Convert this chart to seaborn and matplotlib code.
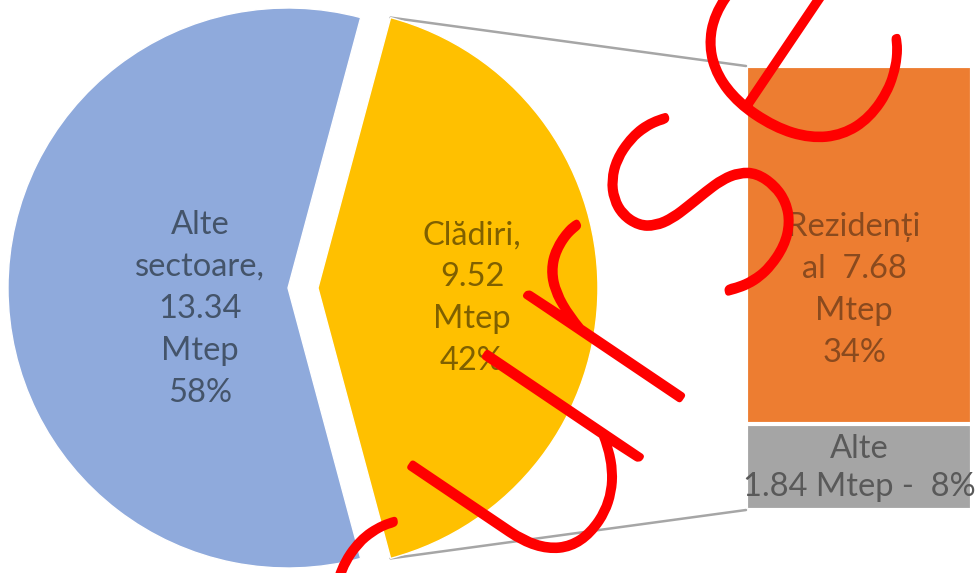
import matplotlib
matplotlib.use("Agg")
import matplotlib.pyplot as plt
import matplotlib.patheffects as pe
import numpy as np
import seaborn as sns
from matplotlib.patches import ConnectionPatch

# data
pie_labels = ["Alte\nsectoare,\n13.34\nMtep\n58%", "Clădiri,\n9.52\nMtep\n42%"]
pie_values = [13.34, 9.52]
pie_colors = ["#8FAADC", "#FFC000"]
pie_text_colors = ["#44546A", "#7F6000"]

bar_labels = ["Rezidențial", "Alte"]
bar_texts = ["Rezidenți\nal  7.68\nMtep\n34%", "Alte\n1.84 Mtep -  8%"]
bar_values = [7.68, 1.84]
bar_colors = ["#ED7D31", "#A5A5A5"]
bar_text_colors = ["#8A4A1E", "#595959"]

watermark = "curse"

sns.set_theme(style="white")
plt.rcParams['font.family'] = ['Lato', 'DejaVu Sans']

fig = plt.figure(figsize=(9.78, 5.73), dpi=100)
fig.patch.set_facecolor("white")

# bar of pie
bax = fig.add_axes([746 / 978, (573 - 510) / 573, 226 / 978, 444 / 573])
total = sum(bar_values)
sns.barplot(x=["Clădiri"], y=[total], color=bar_colors[0], saturation=1,
            width=1, edgecolor="white", linewidth=3, ax=bax)
sns.barplot(x=["Clădiri"], y=[bar_values[1]], color=bar_colors[1], saturation=1,
            width=1, edgecolor="white", linewidth=3, ax=bax)
bax.set_xlim(-0.5, 0.5)
bax.set_ylim(0, total)
bax.axis("off")

bax.text(-0.022, bar_values[1] + 0.375 * bar_values[0], bar_texts[0],
         ha="center", va="center", fontsize=23.5, color=bar_text_colors[0], linespacing=1.5)
bax.text(0.0, bar_values[1] * 0.49, bar_texts[1], ha="center", va="center",
         fontsize=23.5, color=bar_text_colors[1], linespacing=1.35, clip_on=False)

# pie axes covers the whole figure, one unit = pie radius (280 px)
ax = fig.add_axes([0, 0, 1, 1])
ax.set_zorder(3)
blue_share = pie_values[0] / sum(pie_values)
start = 180 - blue_share * 360 / 2
wedges, _ = ax.pie(pie_values, colors=pie_colors, startangle=start,
                   explode=(0, 0.107), radius=1.0, center=(0, 0), frame=True)
ax.set_xlim(-288 / 280, (978 - 288) / 280)
ax.set_ylim((288 - 573) / 280, 288 / 280)
ax.set_aspect("auto")
ax.axis("off")

ax.text(-0.314, -0.075, pie_labels[0], ha="center", va="center", fontsize=23.5,
        color=pie_text_colors[0], linespacing=1.5)
ax.text(0.657, -0.036, pie_labels[1], ha="center", va="center", fontsize=23.5,
        color=pie_text_colors[1], linespacing=1.5)

# connector lines from the exploded wedge to the bar
yw = wedges[1]
cx, cy = yw.center
for theta, yb in [(yw.theta2, total), (yw.theta1, 0)]:
    px = cx + yw.r * np.cos(np.radians(theta))
    py = cy + yw.r * np.sin(np.radians(theta))
    con = ConnectionPatch(xyA=(px, py), coordsA=ax.transData,
                          xyB=(-0.5, yb), coordsB=bax.transData,
                          color="#A6A6A6", linewidth=1.8)
    fig.add_artist(con)

# watermark
ax.text(1.43, -0.35, watermark, ha="center", va="baseline", fontsize=272,
        rotation=56, rotation_mode="anchor", color="red", fontweight=100,
        family="Lato", zorder=10,
        path_effects=[pe.Stroke(linewidth=4.5, foreground="red"), pe.Normal()])

fig.savefig("out.png", dpi=100, facecolor="white")
